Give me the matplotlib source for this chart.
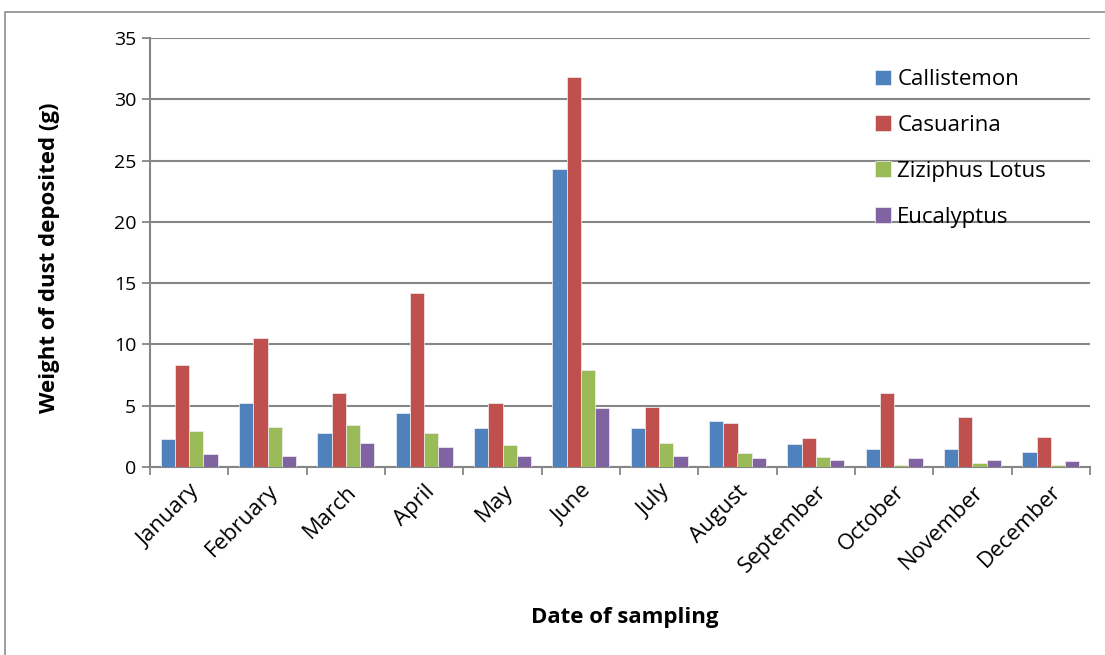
import numpy as np
import matplotlib.pyplot as plt
from matplotlib.patches import Rectangle
from matplotlib.ticker import FixedLocator

months = ["January", "February", "March", "April", "May", "June", "July",
          "August", "September", "October", "November", "December"]
callistemon = [2.26, 5.26, 2.78, 4.39, 3.16, 24.3, 3.16, 3.74, 1.91, 1.50, 1.48, 1.20]
casuarina = [8.31, 10.56, 6.05, 14.16, 5.19, 31.8, 4.89, 3.57, 2.38, 6.06, 4.12, 2.48]
ziziphus = [2.97, 3.30, 3.46, 2.81, 1.79, 7.89, 1.99, 1.11, 0.82, 0.19, 0.30, 0.19]
eucalyptus = [1.09, 0.90, 1.96, 1.64, 0.92, 4.84, 0.90, 0.71, 0.60, 0.71, 0.60, 0.47]

series = [("Callistemon", callistemon, "#4F81BD"),
          ("Casuarina", casuarina, "#C0504D"),
          ("Ziziphus Lotus", ziziphus, "#9BBB59"),
          ("Eucalyptus", eucalyptus, "#8064A2")]

plt.rcParams['font.family'] = ['Open Sans', 'DejaVu Sans']

W, H = 1105, 655
fig = plt.figure(figsize=(W / 100, H / 100), dpi=100)
fig.patches.append(Rectangle((5 / W, -0.01), 1.1, (H - 12) / H + 0.01,
                             transform=fig.transFigure, fill=False,
                             edgecolor="#8c8c8c", linewidth=1.2))

ax = fig.add_axes([150 / W, 1 - 467 / H, (1090 - 150) / W, (467 - 38) / H])

x = np.arange(len(months))
w = 1 / 5.5
for i, (name, vals, col) in enumerate(series):
    ax.bar(x + (i - 1.5) * w, vals, width=w, color=col, label=name,
           edgecolor="#f0f0f0", linewidth=0.5, zorder=3)

ax.set_xlim(-0.5, 11.5)
ax.set_ylim(0, 35)
ax.set_yticks(np.arange(0, 36, 5))
ax.yaxis.grid(True, color="#868686", linewidth=1.5, zorder=0)
ax.set_axisbelow(True)

ax.set_xticks(x)
ax.set_xticklabels(months, rotation=45, ha="right", rotation_mode="anchor", fontsize=16)
ax.tick_params(axis="x", which="major", length=0, pad=10)
ax.xaxis.set_minor_locator(FixedLocator(np.arange(-0.5, 12, 1)))
ax.tick_params(axis="x", which="minor", length=6, width=1.3, color="#868686", direction="out")
ax.tick_params(axis="y", length=6, width=1.3, color="#868686", labelsize=14, pad=4)

for s in ["top", "right"]:
    ax.spines[s].set_visible(False)
for s in ["left", "bottom"]:
    ax.spines[s].set_color("#868686")
    ax.spines[s].set_linewidth(1.5)

fig.text(625 / W, 1 - 617 / H, "Date of sampling", fontsize=16, fontweight="bold",
         ha="center", va="center")
fig.text(50 / W, 1 - 258 / H, "Weight of dust deposited (g)", fontsize=16,
         fontweight="bold", rotation=90, ha="center", va="center")

leg = ax.legend(loc="upper left", bbox_to_anchor=(864 / W, 1 - 58 / H),
                bbox_transform=fig.transFigure, frameon=False, borderpad=0,
                fontsize=16, handlelength=0.7, handleheight=0.7,
                labelspacing=1.12, handletextpad=0.3)

fig.savefig("out.png", dpi=100)
